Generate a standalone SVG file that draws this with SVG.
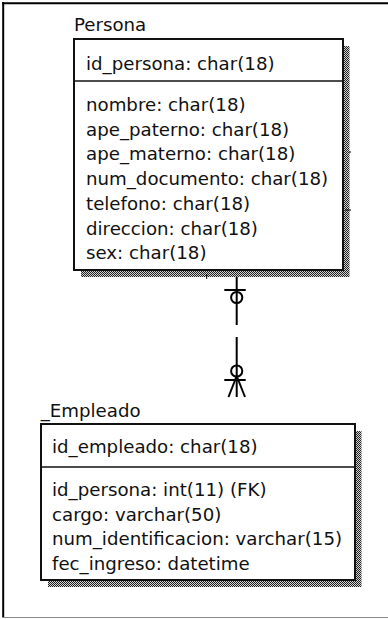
<svg xmlns="http://www.w3.org/2000/svg" width="388" height="619" viewBox="0 0 388 619">
<defs>
<pattern id="dots" width="2" height="2" patternUnits="userSpaceOnUse">
<rect width="2" height="2" fill="#d0d0d0"/>
<rect width="1" height="1" fill="#222"/>
<rect x="1" y="1" width="1" height="1" fill="#222"/>
</pattern>
</defs>
<style>
.t{font-family:"DejaVu Sans",Verdana,sans-serif;font-size:18.2px;fill:#111}
.box{fill:#fff;stroke:#111;stroke-width:2}
.sep{stroke:#111;stroke-width:1.6}
.shadow{fill:url(#dots)}
.ln{stroke:#000;stroke-width:2;fill:none}
</style>
<rect width="388" height="619" fill="#fff"/>
<g id="frame">
<line x1="2" y1="3.2" x2="388" y2="3.2" stroke="#000" stroke-width="2"/>
<line x1="3.2" y1="2" x2="3.2" y2="618" stroke="#000" stroke-width="2"/>
<line x1="2" y1="617.5" x2="388" y2="617.5" stroke="#888" stroke-width="1"/>
</g>
<g id="persona">
<rect class="shadow" x="81" y="46" width="268.5" height="231"/>
<rect class="box" x="74" y="39" width="269" height="231"/>
<line class="sep" x1="74" y1="81" x2="343" y2="81"/>
<text class="t" x="74" y="31">Persona</text>
<text class="t" x="86" y="70">id_persona: char(18)</text>
<text class="t" x="86" y="111">nombre: char(18)</text>
<text class="t" x="86" y="135.7">ape_paterno: char(18)</text>
<text class="t" x="86" y="160.4">ape_materno: char(18)</text>
<text class="t" x="86" y="185.1">num_documento: char(18)</text>
<text class="t" x="86" y="209.8">telefono: char(18)</text>
<text class="t" x="86" y="234.5">direccion: char(18)</text>
<text class="t" x="86" y="259.2">sex: char(18)</text>
<line x1="349" y1="152" x2="351" y2="152" stroke="#000" stroke-width="1"/>
<line x1="345" y1="210" x2="351" y2="210" stroke="#000" stroke-width="1"/>
<line x1="206.7" y1="274" x2="206.7" y2="279" stroke="#000" stroke-width="1"/>
</g>
<g id="empleado">
<rect class="shadow" x="48" y="431" width="313.5" height="156"/>
<rect class="box" x="41" y="424" width="314" height="156"/>
<line class="sep" x1="41" y1="467" x2="355" y2="467"/>
<text class="t" x="40.7" y="417">_Empleado</text>
<text class="t" x="52" y="453">id_empleado: char(18)</text>
<text class="t" x="52" y="496">id_persona: int(11) (FK)</text>
<text class="t" x="52" y="520.5">cargo: varchar(50)</text>
<text class="t" x="52" y="545">num_identificacion: varchar(15)</text>
<text class="t" x="52" y="569.5">fec_ingreso: datetime</text>
</g>
<g id="connectors">
<line class="ln" x1="236.7" y1="277" x2="236.7" y2="325"/>
<line class="ln" x1="224.3" y1="290" x2="245.7" y2="290"/>
<circle class="ln" cx="236.7" cy="297.5" r="5.6" stroke-width="1.6"/>
<line class="ln" x1="236.7" y1="337" x2="236.7" y2="397"/>
<circle class="ln" cx="236.7" cy="371" r="5.6" stroke-width="1.6"/>
<line class="ln" x1="224.3" y1="380" x2="245.7" y2="380"/>
<line class="ln" x1="236.7" y1="376" x2="228.5" y2="397" stroke-width="1.6"/>
<line class="ln" x1="236.7" y1="376" x2="245" y2="397" stroke-width="1.6"/>
</g>
</svg>
